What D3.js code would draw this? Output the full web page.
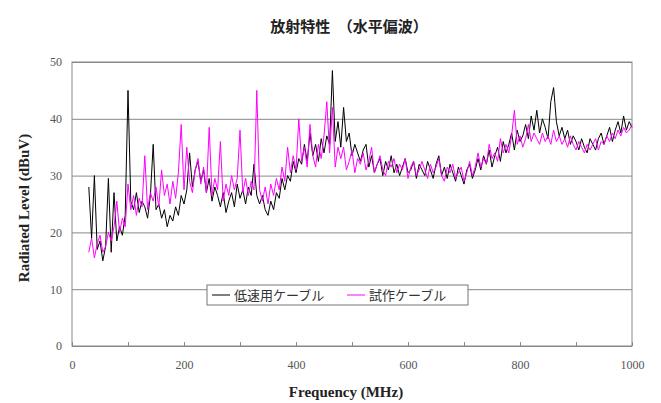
<!DOCTYPE html>
<html>
<head>
<meta charset="utf-8">
<script src="https://cdn.jsdelivr.net/npm/d3@7"></script>
<style>
  body { margin: 0; background: #fff; }
  .tick text { font-family: "Liberation Serif", "DejaVu Serif", serif; font-size: 12px; fill: #555; }
  .axis path, .axis line { stroke: #888; }
</style>
</head>
<body>
<script>
// Radiated emission, horizontal polarisation: two cables, 30-1000 MHz
var chartTitle = "放射特性　（水平偏波）";
var seriesNames = ["低速用ケーブル", "試作ケーブル"];
var seriesColors = ["#000000", "#ff00ff"];

// sampling grid (MHz), 5 MHz steps from 30 to 1000
var freqStart = 30, freqStep = 5;

// 低速用ケーブル (dBuV), one row per 50 MHz
var lowSpeed = [
  28, 19, 30, 17, 18.5, 15, 17.5, 29.5, 16.5, 27,
  18.5, 21, 19.5, 23, 45, 25.5, 24, 27, 23.5, 25.5,
  24.5, 22.5, 26.5, 35.5, 24, 25, 22.5, 24, 21, 23,
  22, 24.5, 23, 26.5, 25, 27.5, 34, 28, 31, 32.5,
  29, 31, 27, 29.5, 25.5, 28, 26.5, 24.5, 27, 23.5,
  25.5, 27, 24.5, 28.5, 26, 27.5, 25, 28, 26.5, 32,
  26.5, 25, 26.5, 24, 23, 25.5, 24, 27, 26, 29.5,
  27.5, 30, 29, 32.5, 30.5, 33, 32, 35.5, 32.5, 37.5,
  33.5, 35.5, 32.5, 36.5, 34, 37, 35.5, 48.5, 36, 39.5,
  35, 42, 36, 37.5, 33.5, 35.5, 34, 32.5, 34.5, 35.5,
  31.5, 33.5, 30.5, 32, 33, 30, 32.5, 31, 33.5, 30.5,
  32, 30, 31.5, 33, 30.5, 31, 32.5, 29.5, 32, 31,
  30, 32.5, 31, 29.5, 32, 33.5, 30, 31.5, 29.5, 32,
  30.5, 29, 31.5, 30, 28.5, 31, 32, 29.5, 31, 33,
  31, 33.5, 32, 34.5, 31.5, 33.5, 35, 32.5, 36, 34,
  35.5, 37.5, 34.5, 38, 36, 37, 39, 36.5, 40.5, 38,
  41.5, 37.5, 40, 38.5, 36.5, 43, 45.5, 39.5, 37, 38.5,
  36.5, 38, 35.5, 37, 36, 34.5, 36.5, 35, 34, 36.5,
  35.5, 34.5, 36.5, 37.5, 35.5, 37, 38.5, 36, 38, 39.5,
  37.5, 40.5, 38, 39.5, 38.5
];

// 試作ケーブル (dBuV)
var prototype = [
  16.5, 19, 15.5, 18, 19.5, 16.5, 17.5, 20, 18.5, 21,
  25.5, 20, 22.5, 21, 28.5, 24, 26.5, 23, 26, 24.5,
  33.5, 24, 27, 25.5, 28, 24.5, 31, 26.5, 28.5, 25,
  29, 26, 30.5, 39, 27.5, 35, 29, 27, 31, 33,
  28.5, 31.5, 27, 38.5, 26.5, 29.5, 27.5, 36, 25.5, 28.5,
  26.5, 30, 27.5, 29.5, 38, 27, 29.5, 26.5, 29, 27.5,
  45, 27.5, 25.5, 28, 25, 28.5, 26.5, 29.5, 27.5, 31.5,
  29, 35, 30.5, 33.5, 31, 40, 32.5, 35, 31.5, 39,
  33.5, 31.5, 35.5, 33, 37, 43, 34, 42, 31.5, 35,
  33, 35, 31, 32.5, 34.5, 30.5, 33, 32, 34, 31,
  32.5, 35, 30.5, 32, 33.5, 31, 30, 32.5, 31.5, 33,
  30.5, 32, 31, 33, 29.5, 31.5, 32.5, 30, 31, 32.5,
  31, 29.5, 32, 30.5, 31.5, 33, 30, 29, 31.5, 30.5,
  32, 29.5, 30.5, 31.5, 29, 30.5, 32.5, 30, 31.5, 34,
  31.5, 33, 32, 35.5, 33, 34, 32.5, 36.5, 34, 35.5,
  34, 37, 41.5, 35.5, 37, 35, 36.5, 39, 36, 37.5,
  36.5, 35.5, 37.5, 36, 37, 35.5, 38, 36, 37, 35.5,
  36.5, 35, 37, 35.5, 34.5, 36, 35, 34, 35.5, 34.5,
  35.5, 36.5, 34.5, 36, 35.5, 37, 36, 37.5, 36.5, 38,
  37, 38.5, 37.5, 38, 39
];

var xTicks = [0, 100, 200, 300, 400, 500, 600, 700, 800, 900, 1000];
var yTicks = [0, 10, 20, 30, 40, 50];

var W = 661, H = 403;
var plotL = 72, plotR = 632, plotT = 62, plotB = 346;

var svg = d3.select("body").append("svg")
  .attr("width", W)
  .attr("height", H);

var x = d3.scaleLinear().domain([0, 1000]).range([plotL, plotR]);
var y = d3.scaleLinear().domain([0, 50]).range([plotB, plotT]);

// horizontal grid + y labels
var gy = svg.append("g")
  .attr("class", "axis")
  .attr("transform", "translate(" + plotL + ",0)")
  .call(d3.axisLeft(y).tickValues(yTicks).tickSize(-(plotR - plotL)).tickPadding(10));
gy.select(".domain").remove();
gy.selectAll(".tick line").attr("stroke", "#888");

// x axis with small inner ticks
var gx = svg.append("g")
  .attr("class", "axis")
  .attr("transform", "translate(0," + plotB + ")")
  .call(d3.axisBottom(x).tickValues(xTicks).tickSize(-4).tickPadding(14)
    .tickFormat(function(d) { return d % 200 === 0 ? d : ""; }));
gx.select(".domain").remove();

// plot frame
svg.append("rect")
  .attr("x", plotL).attr("y", plotT)
  .attr("width", plotR - plotL).attr("height", plotB - plotT)
  .attr("fill", "none")
  .attr("stroke", "#888");

var line = d3.line()
  .x(function(d, i) { return x(freqStart + i * freqStep); })
  .y(function(d) { return y(d); });

[lowSpeed, prototype].forEach(function(s, k) {
  svg.append("path")
    .datum(s)
    .attr("fill", "none")
    .attr("stroke", seriesColors[k])
    .attr("stroke-width", 1)
    .attr("d", line);
});

// title
svg.append("text")
  .attr("x", 349).attr("y", 32)
  .attr("text-anchor", "middle")
  .style("font-family", "'Noto Sans CJK JP'")
  .style("font-weight", "bold")
  .style("font-size", "15px")
  .style("fill", "#222")
  .text(chartTitle);

// axis titles
svg.append("text")
  .attr("x", 346).attr("y", 397)
  .attr("text-anchor", "middle")
  .style("font-family", "'Liberation Serif', serif")
  .style("font-weight", "bold")
  .style("font-size", "15px")
  .style("fill", "#222")
  .text("Frequency (MHz)");

svg.append("text")
  .attr("transform", "translate(29,208) rotate(-90)")
  .attr("text-anchor", "middle")
  .style("font-family", "'Liberation Serif', serif")
  .style("font-weight", "bold")
  .style("font-size", "15px")
  .style("fill", "#222")
  .text("Radiated Level (dBuV)");

// legend
var lg = svg.append("g");
lg.append("rect")
  .attr("x", 207).attr("y", 285)
  .attr("width", 261).attr("height", 20)
  .attr("fill", "#fff")
  .attr("stroke", "#777");

var legendX = [212, 347];
seriesNames.forEach(function(name, k) {
  lg.append("line")
    .attr("x1", legendX[k]).attr("x2", legendX[k] + 18)
    .attr("y1", 295).attr("y2", 295)
    .attr("stroke", seriesColors[k])
    .attr("stroke-width", 1);
  lg.append("text")
    .attr("x", legendX[k] + 22).attr("y", 300)
    .style("font-family", "'Noto Sans CJK JP'")
    .style("font-size", "13px")
    .style("fill", "#333")
    .text(name);
});
</script>
</body>
</html>
